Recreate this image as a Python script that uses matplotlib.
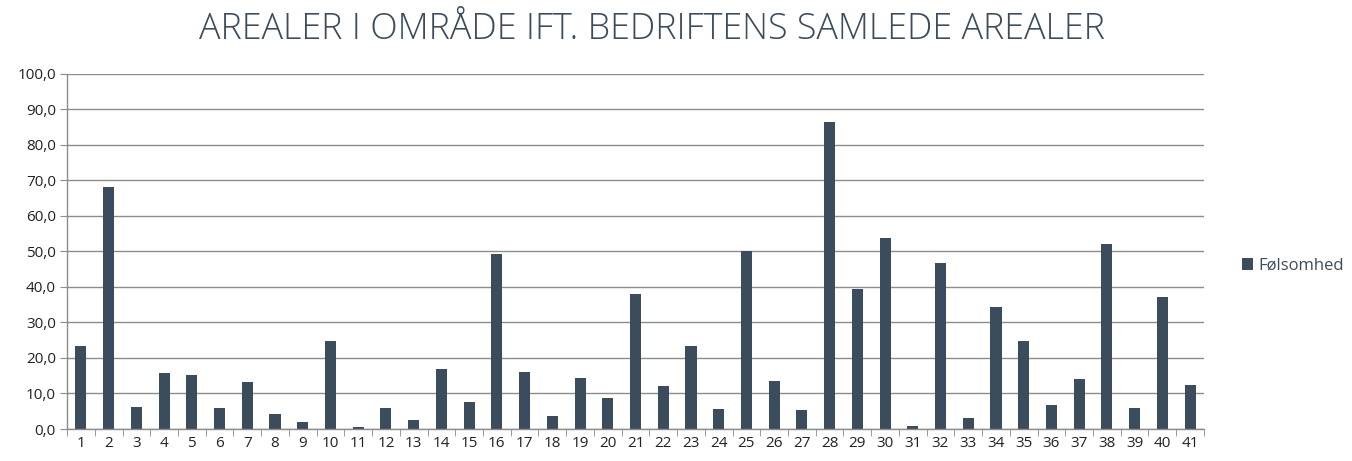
import matplotlib
matplotlib.use('Agg')
from matplotlib import pyplot as plt
from matplotlib.ticker import FuncFormatter, FixedLocator
import numpy as np

plt.rcParams['font.family'] = ['Open Sans', 'DejaVu Sans']

categories = [str(i) for i in range(1, 42)]
folsomhed = [23.5, 68.2, 6.3, 15.7, 15.2, 6.0, 13.3, 4.3, 2.0, 24.8,
             0.6, 6.0, 2.4, 17.0, 7.6, 49.2, 16.1, 3.6, 14.3, 8.6,
             38.1, 12.1, 23.4, 5.7, 50.0, 13.6, 5.3, 86.3, 39.3, 53.8,
             0.75, 46.8, 3.2, 34.3, 24.9, 6.75, 14.0, 52.2, 5.8, 37.2,
             12.3]

bar_color = '#3b4c5c'
grid_color = '#8c8c8c'
text_color = '#222222'

fig = plt.figure(figsize=(13.52, 4.61), dpi=100)
ax = fig.add_axes([0.0496, 0.0694, 0.8409, 0.7706])

x = np.arange(len(categories))
ax.bar(x, folsomhed, width=0.4, color=bar_color, label='Følsomhed', zorder=3)

ax.set_xlim(-0.5, len(categories) - 0.5)
ax.set_ylim(0, 100)
ax.set_yticks(np.arange(0, 101, 10))
ax.yaxis.set_major_formatter(FuncFormatter(lambda v, p: f'{v:.1f}'.replace('.', ',')))
ax.grid(axis='y', color=grid_color, linewidth=1.0, zorder=0)

ax.set_xticks(x)
ax.set_xticklabels(categories)
ax.xaxis.set_minor_locator(FixedLocator(np.arange(-0.5, len(categories), 1.0)))
ax.tick_params(axis='x', which='major', length=0, pad=5, labelsize=11, labelcolor=text_color)
ax.tick_params(axis='x', which='minor', length=5, color=grid_color, direction='out')
ax.tick_params(axis='y', length=5, color=grid_color, labelsize=11, pad=3, labelcolor=text_color)

for s in ['top', 'right']:
    ax.spines[s].set_visible(False)
for s in ['left', 'bottom']:
    ax.spines[s].set_color(grid_color)
    ax.spines[s].set_linewidth(1.0)
ax.spines['bottom'].set_zorder(4)

fig.text(0.482, 0.935, 'AREALER I OMRÅDE IFT. BEDRIFTENS SAMLEDE AREALER',
         ha='center', va='center', fontsize=25.8, fontweight='light', color='#3b4c5c')

leg = ax.legend(loc='center left', bbox_to_anchor=(1.02, 0.46), frameon=False,
                fontsize=12, handlelength=0.7, handleheight=0.7, handletextpad=0.3)
for t in leg.get_texts():
    t.set_color('#3b4c5c')

plt.savefig('out.png', dpi=100)
